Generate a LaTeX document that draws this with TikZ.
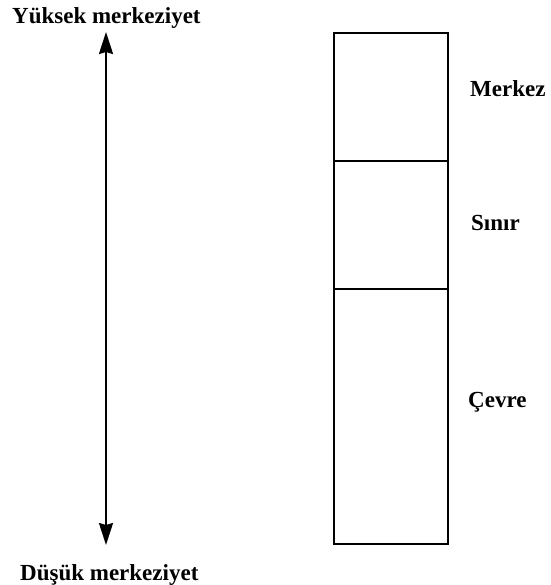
\documentclass[tikz,border=0pt]{standalone}
\usepackage{fontspec}
\setmainfont{Liberation Serif}
\usepackage{tikz}
\usetikzlibrary{arrows.meta}
\usetikzlibrary{positioning}
\tikzset{>={Stealth[length=22pt,width=14pt,inset=2pt]}}
\tikzset{
  region/.style={draw, line width=1.8pt, minimum width=114pt, inner sep=0pt, outer sep=0pt},
  lbl/.style={inner sep=0pt, anchor=base west, font=\bfseries\fontsize{23}{26}\selectfont}
}

\begin{document}
\begin{tikzpicture}[x=1pt,y=-1pt]
  \useasboundingbox (0,0) rectangle (550,585);
  % axis of centrality
  \node[lbl] (high) at (12,24) {Yüksek merkeziyet};
  \node[lbl] (low) at (20,580) {Düşük merkeziyet};
  \coordinate (top) at (106,32);
  \coordinate (bottom) at (106,545);
  \draw[<->, line width=2pt] (top) -- (bottom);
  % core, border and periphery
  \node[region, minimum height=128pt, anchor=north west] (merkez) at (334,33) {};
  \node[region, minimum height=128pt, below=0pt of merkez] (sinir) {};
  \node[region, minimum height=255pt, below=0pt of sinir] (cevre) {};
  \node[lbl] (merkezlbl) at (470,97) {Merkez};
  \node[lbl] (sinirlbl) at (471,230) {Sınır};
  \node[lbl] (cevrelbl) at (468,407) {Çevre};
\end{tikzpicture}
\end{document}
